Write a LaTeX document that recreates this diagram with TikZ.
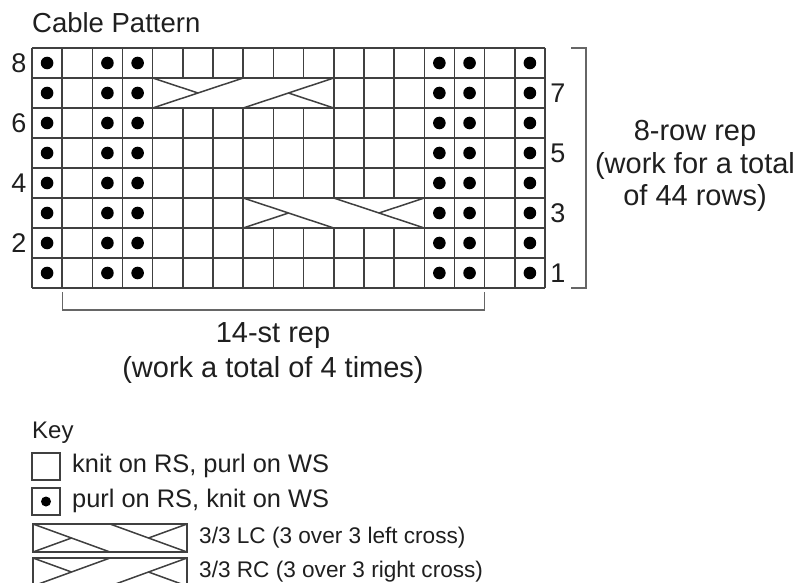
\documentclass[tikz,border=0pt]{standalone}
\usepackage{fontspec}
\setmainfont{Liberation Sans}
\newcommand\knRC[4]{%
  \filldraw[gridline, fill=white] (#1,#2) rectangle ({#1+#3},{#2+#4});
  \draw[gridline] (#1,{#2+#4}) -- ({#1+#3/2},#2);
  \draw[gridline] ({#1+#3/2},{#2+#4}) -- ({#1+#3},#2);
  \draw[gridline] (#1,#2) -- ({#1+#3/4},{#2+#4/2});
  \draw[gridline] ({#1+#3},{#2+#4}) -- ({#1+3*#3/4},{#2+#4/2});
}
\newcommand\knLC[4]{%
  \filldraw[gridline, fill=white] (#1,#2) rectangle ({#1+#3},{#2+#4});
  \draw[gridline] (#1,#2) -- ({#1+#3/2},{#2+#4});
  \draw[gridline] ({#1+#3/2},#2) -- ({#1+#3},{#2+#4});
  \draw[gridline] (#1,{#2+#4}) -- ({#1+#3/4},{#2+#4/2});
  \draw[gridline] ({#1+#3},#2) -- ({#1+3*#3/4},{#2+#4/2});
}
\begin{document}
\begin{tikzpicture}[x=1pt,y=-1pt,
  gridline/.style={line width=1.5pt, draw=black!75},
  bracketline/.style={line width=1.1pt, draw=black!60},
  lab/.style={inner sep=0pt, anchor=base, text=black!88},
  biglab/.style={lab, font=\fontsize{29}{33}\selectfont},
  keylab/.style={lab, anchor=base west, font=\fontsize{25.4}{28}\selectfont},
  cablab/.style={lab, anchor=base west, font=\fontsize{22.6}{26}\selectfont},
  num/.style={inner sep=0pt, anchor=center, text=black!88, font=\fontsize{27}{30}\selectfont},
]
\clip (0,0) rectangle (803,583);
\fill[white] (0,0) rectangle (803,583);
\def\gx{32}\def\gy{48}\def\cw{30.176}\def\rh{30}
% title
\node[lab, anchor=base west, font=\fontsize{27.5}{30}\selectfont] (title) at (32,33) {Cable Pattern};
% grid
\foreach \i in {0,...,17} \draw[gridline] ({\gx+\i*\cw},\gy) -- ({\gx+\i*\cw},{\gy+8*\rh});
\foreach \j in {0,...,8} \draw[gridline] (\gx,{\gy+\j*\rh}) -- ({\gx+17*\cw},{\gy+\j*\rh});
% purl dots
\foreach \r in {0,...,7}
  \foreach \c in {0,2,3,13,14,16}
    \fill[black] ({\gx+(\c+0.5)*\cw},{\gy+(\r+0.5)*\rh}) circle (6.3);
% cables
\knRC{152.704}{78}{181.056}{30}
\knLC{243.232}{198}{181.056}{30}
% row numbers
\node[num] (r8) at (19,63) {8};
\node[num] (r6) at (19,123) {6};
\node[num] (r4) at (19,183) {4};
\node[num] (r2) at (19,243) {2};
\node[num] (r7) at (558,93) {7};
\node[num] (r5) at (558,153) {5};
\node[num] (r3) at (558,213) {3};
\node[num] (r1) at (558,273) {1};
% brackets
\draw[bracketline] (571,48) -- (586,48) -- (586,288) -- (571,288);
\draw[bracketline] (62.2,292) -- (62.2,310) -- (484.7,310) -- (484.7,292);
% bracket labels
\node[biglab] (rowrepA) at (695,141) {8-row rep};
\node[biglab] (rowrepB) at (695,173) {(work for a total};
\node[biglab] (rowrepC) at (695,205) {of 44 rows)};
\node[biglab] (strepA) at (273,342) {14-st rep};
\node[biglab] (strepB) at (273,377) {(work a total of 4 times)};
% key
\node[keylab, font=\fontsize{24}{28}\selectfont] (key) at (32,438) {Key};
\draw[gridline] (32,453) rectangle (60,480);
\node[keylab] (kknit) at (72,472) {knit on RS, purl on WS};
\draw[gridline] (32,488) rectangle (60,515);
\fill[black] (46,501.5) circle (5);
\node[keylab] (kpurl) at (72,507) {purl on RS, knit on WS};
\knLC{33}{524}{154}{28}
\node[cablab] (klc) at (199,543) {3/3 LC (3 over 3 left cross)};
\knRC{33}{558}{154}{28}
\node[cablab] (krc) at (199,577) {3/3 RC (3 over 3 right cross)};
\end{tikzpicture}
\end{document}
